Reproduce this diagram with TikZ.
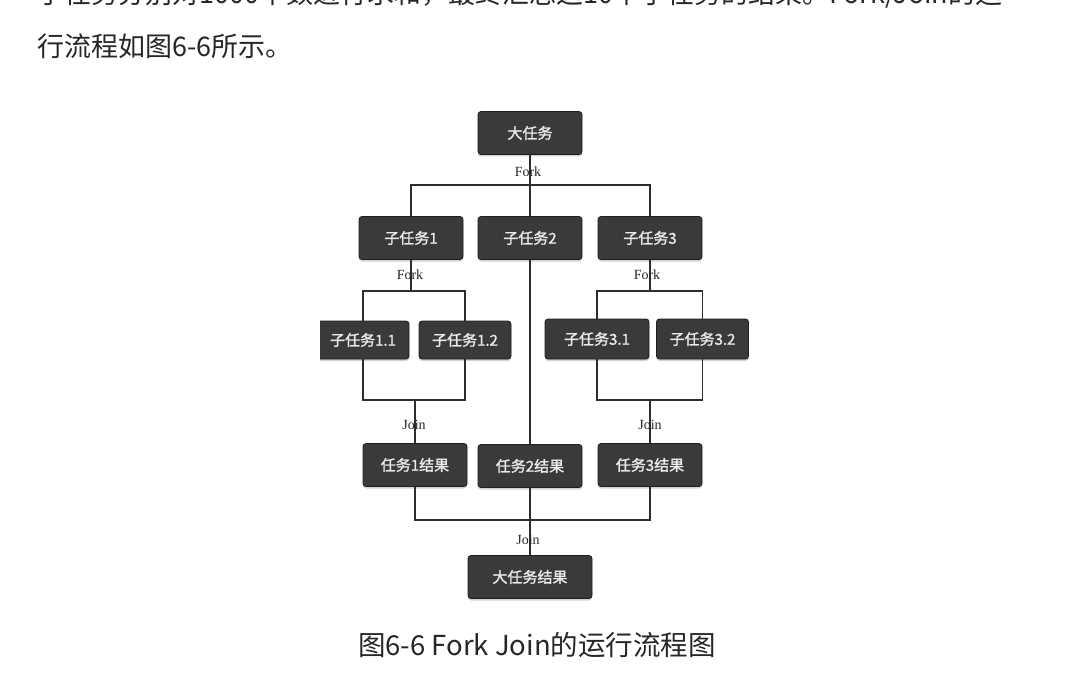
\documentclass[tikz,border=0pt]{standalone}
\usepackage{fontspec}
\setmainfont{Noto Sans CJK SC}
\newfontfamily\boxfont[AutoFakeBold=1.5]{Noto Sans CJK SC}
\newfontfamily\lblfont{Liberation Serif}
\usepackage{xcolor}
\usepackage{tikz}
\usetikzlibrary{shadows}

\definecolor{boxgray}{RGB}{60,57,58}
\definecolor{boxedge}{RGB}{30,30,30}
\definecolor{linegray}{RGB}{45,45,45}

\begin{document}
\begin{tikzpicture}[
                x=1pt, y=-1pt,
                task/.style={rectangle, rounded corners=3pt, draw=boxedge, line width=0.8pt, fill=boxgray,
                    text=white!92!black, font=\boxfont\bfseries\fontsize{15}{17}\selectfont,
                    minimum width=104pt, minimum height=43pt, inner sep=0pt,
                    drop shadow={shadow xshift=0pt, shadow yshift=-2pt, opacity=0.35}},
                small/.style={task, minimum width=92pt, minimum height=38pt},
                wide/.style={task, minimum width=124pt},
                lbl/.style={font=\lblfont\fontsize{14}{16}\selectfont, text=black!85, inner sep=0pt},
                link/.style={draw=linegray, line width=1.2pt},
                prose/.style={font=\fontsize{27}{32}\selectfont, text=black!85, inner sep=0pt}
            ]
                \clip (0,0) rectangle (1071,679);

                % Text around the figure
                \node[prose, anchor=west] (line0) at (37,-6) {子任务分别对1000个数进行求和，最终汇总这10个子任务的结果。Fork/Join的运};
                \node[prose, anchor=west] (line1) at (37,46) {行流程如图6-6所示。};
                \node[prose, font=\fontsize{27.5}{32}\selectfont] (caption) at (537,645) {图6-6 Fork Join的运行流程图};

                \begin{scope}
                \clip (320,100) rectangle (760,610);

                % Task nodes
                \node[task] (big) at (530,133) {大任务};
                \node[task] (s1) at (411,238) {子任务1};
                \node[task] (s2) at (530,238) {子任务2};
                \node[task] (s3) at (650,238) {子任务3};
                \node[small] (s11) at (363,340) {子任务1.1};
                \node[small] (s12) at (465,340) {子任务1.2};
                \node[task, minimum height=40pt] (s31) at (597,339) {子任务3.1};
                \node[small, minimum height=40pt] (s32) at (702.5,339) {子任务3.2};
                \node[task] (r1) at (415,465) {任务1结果};
                \node[task] (r2) at (530,466) {任务2结果};
                \node[task] (r3) at (650,465) {任务3结果};
                \node[wide] (fin) at (530,577) {大任务结果};

                % Junctions
                \coordinate (forkA) at (530,185);
                \coordinate (fork1) at (411,291);
                \coordinate (fork3) at (650,291);
                \coordinate (join1) at (415,400);
                \coordinate (join3) at (650,400);
                \coordinate (joinB) at (530,520);

                % Edges
                \path[link]
                    (big) -- (s2)
                    (s1.north) |- (forkA) -| (s3.north)
                    (s1) -- (fork1)
                    (s11.north) |- (fork1) -| (s12.north)
                    (s3) -- (fork3)
                    (s31.north) |- (fork3) -| (s32.north)
                    (s11.south) |- (join1) -| (s12.south)
                    (join1) -- (r1)
                    (s31.south) |- (join3) -| (s32.south)
                    (join3) -- (r3)
                    (s2) -- (r2)
                    (r1.south) |- (joinB) -| (r3.south)
                    (r2) -- (fin);

                % Labels
                \node[lbl] (f0) at (528,172) {Fork};
                \node[lbl] (f1) at (410,275) {Fork};
                \node[lbl] (f3) at (647,275) {Fork};
                \node[lbl] (j1) at (414,425) {Join};
                \node[lbl] (j3) at (650,425) {Join};
                \node[lbl] (j0) at (528,540) {Join};
                \end{scope}
            \end{tikzpicture}
\end{document}
